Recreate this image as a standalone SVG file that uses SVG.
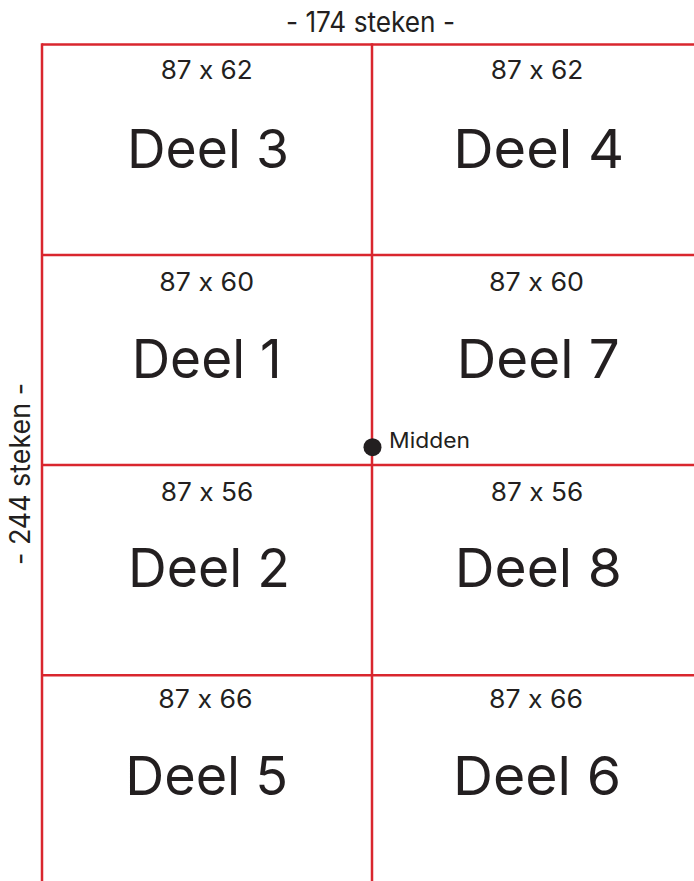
<svg xmlns="http://www.w3.org/2000/svg" width="694" height="881" viewBox="0 0 694 881">
  <style>
    .grid { stroke: #d9262e; stroke-width: 2.5; fill: none; }
    text { font-family: Inter, "Open Sans", "Liberation Sans", sans-serif; fill: #231f20; font-feature-settings: "calt" 0; font-variant-ligatures: none; }
    .dim { font-size: 25px; text-anchor: middle; }
    .deel { font-size: 54px; text-anchor: middle; }
    .axis { font-size: 28px; text-anchor: middle; }
    .mid { font-size: 21px; }
  </style>
  <rect x="0" y="0" width="694" height="881" fill="#ffffff"/>
  <g id="connectors">
    <line class="grid" x1="42" y1="44.5" x2="694" y2="44.5"/>
    <line class="grid" x1="42" y1="255" x2="694" y2="255"/>
    <line class="grid" x1="42" y1="465" x2="694" y2="465"/>
    <line class="grid" x1="42" y1="675.3" x2="694" y2="675.3"/>
    <line class="grid" x1="42" y1="43.25" x2="42" y2="881"/>
    <line class="grid" x1="372" y1="43.25" x2="372" y2="881"/>
  </g>
  <g id="label-width">
    <text class="axis" x="370.5" y="32" textLength="169" lengthAdjust="spacingAndGlyphs">- 174 steken -</text>
  </g>
  <g id="label-height">
    <text class="axis" transform="translate(30,474) rotate(-90)" x="0" y="0" textLength="182" lengthAdjust="spacingAndGlyphs">- 244 steken -</text>
  </g>
  <g id="deel3">
    <text class="dim" x="206.7" y="79.3" textLength="92" lengthAdjust="spacingAndGlyphs">87 x 62</text>
    <text class="deel" x="208" y="167.7" textLength="162" lengthAdjust="spacingAndGlyphs">Deel 3</text>
  </g>
  <g id="deel4">
    <text class="dim" x="537" y="79.3" textLength="92.6" lengthAdjust="spacingAndGlyphs">87 x 62</text>
    <text class="deel" x="538.7" y="167.7" textLength="171" lengthAdjust="spacingAndGlyphs">Deel 4</text>
  </g>
  <g id="deel1">
    <text class="dim" x="206.7" y="291" textLength="94.7" lengthAdjust="spacingAndGlyphs">87 x 60</text>
    <text class="deel" x="206.7" y="378.3" textLength="150" lengthAdjust="spacingAndGlyphs">Deel 1</text>
  </g>
  <g id="deel7">
    <text class="dim" x="536.5" y="291" textLength="95" lengthAdjust="spacingAndGlyphs">87 x 60</text>
    <text class="deel" x="538.3" y="378.3" textLength="163" lengthAdjust="spacingAndGlyphs">Deel 7</text>
  </g>
  <g id="deel2">
    <text class="dim" x="207" y="500.7" textLength="92.6" lengthAdjust="spacingAndGlyphs">87 x 56</text>
    <text class="deel" x="209" y="587.3" textLength="162" lengthAdjust="spacingAndGlyphs">Deel 2</text>
  </g>
  <g id="deel8">
    <text class="dim" x="537" y="500.7" textLength="92.3" lengthAdjust="spacingAndGlyphs">87 x 56</text>
    <text class="deel" x="538.3" y="587.3" textLength="167" lengthAdjust="spacingAndGlyphs">Deel 8</text>
  </g>
  <g id="deel5">
    <text class="dim" x="205.5" y="707.7" textLength="94.4" lengthAdjust="spacingAndGlyphs">87 x 66</text>
    <text class="deel" x="206.7" y="795" textLength="163" lengthAdjust="spacingAndGlyphs">Deel 5</text>
  </g>
  <g id="deel6">
    <text class="dim" x="536" y="707.7" textLength="94" lengthAdjust="spacingAndGlyphs">87 x 66</text>
    <text class="deel" x="537" y="795" textLength="168" lengthAdjust="spacingAndGlyphs">Deel 6</text>
  </g>
  <g id="midden">
    <circle cx="372.5" cy="447.2" r="9" fill="#231f20"/>
    <text class="mid" x="389" y="448.3" textLength="81" lengthAdjust="spacingAndGlyphs">Midden</text>
  </g>
</svg>
